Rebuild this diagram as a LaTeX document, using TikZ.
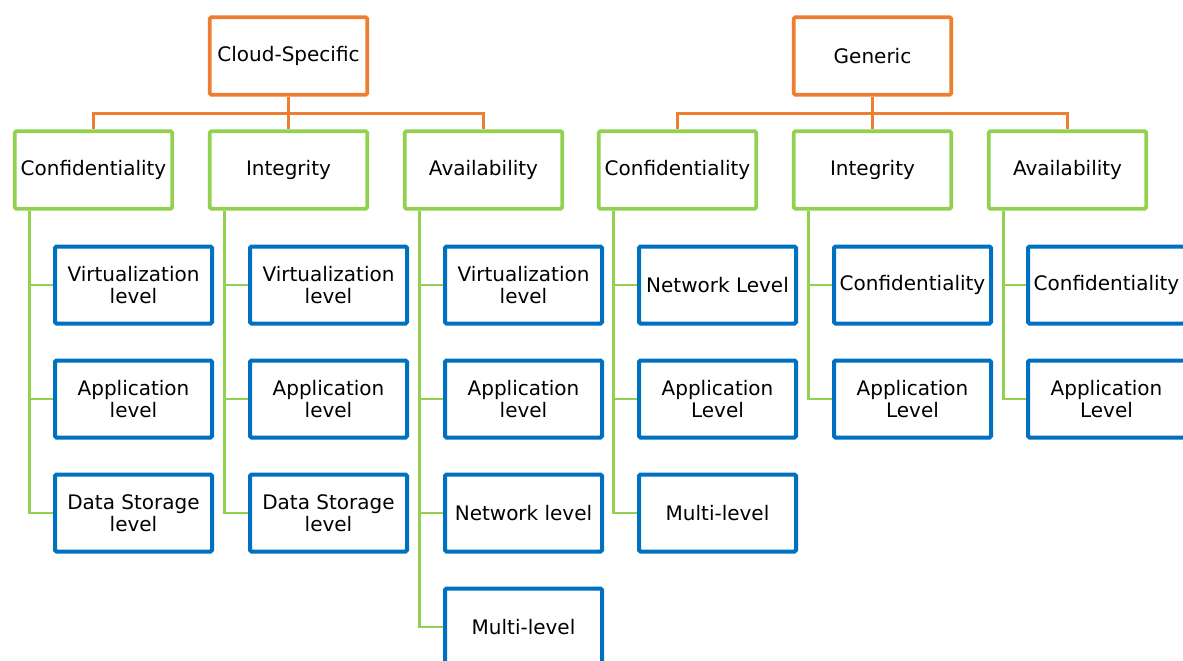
\documentclass[tikz,border=0pt]{standalone}
\usepackage{fontspec}
\setmainfont{DejaVu Sans}
\definecolor{oc}{HTML}{ED7D31}
\definecolor{gc}{HTML}{92D050}
\definecolor{bc}{HTML}{0070C0}
\begin{document}
\begin{tikzpicture}[x=1pt,y=-1pt,
  box/.style={draw,fill=white,line width=3.6pt,rounded corners=1.5pt,minimum width=157.5pt,minimum height=77.5pt,inner sep=0pt,align=center,font=\fontsize{20}{22}\selectfont},
  topbox/.style={box,draw=oc},
  midbox/.style={box,draw=gc},
  leafbox/.style={box,draw=bc,line width=4pt,minimum width=157pt,minimum height=77pt},
  oline/.style={draw=oc,line width=2.6pt},
  gline/.style={draw=gc,line width=2.6pt}]
\useasboundingbox (0,0) rectangle (1183,661);
\fill[white] (0,0) rectangle (1183,661);
% top
\node[topbox] (cs) at (288.5,56) {Cloud-Specific};
\node[topbox] (ge) at (872.5,56) {Generic};
% mid
\node[midbox] (g1) at (93.5,170) {Confidentiality};
\node[midbox] (g2) at (288.5,170) {Integrity};
\node[midbox] (g3) at (483.5,170) {Availability};
\node[midbox] (g4) at (677.5,170) {Confidentiality};
\node[midbox] (g5) at (872.5,170) {Integrity};
\node[midbox] (g6) at (1067.5,170) {Availability};
% connectors top
\foreach \g in {g1,g2,g3} \draw[oline] (cs.south) -- ++(0,17) -| (\g.north);
\foreach \g in {g4,g5,g6} \draw[oline] (ge.south) -- ++(0,17) -| (\g.north);
% leaves
\node[leafbox] (a1) at (133.5,285) {Virtualization\\level};
\node[leafbox] (a2) at (133.5,399) {Application\\level};
\node[leafbox] (a3) at (133.5,513) {Data Storage\\level};
\node[leafbox] (b1) at (328.5,285) {Virtualization\\level};
\node[leafbox] (b2) at (328.5,399) {Application\\level};
\node[leafbox] (b3) at (328.5,513) {Data Storage\\level};
\node[leafbox] (c1) at (523.5,285) {Virtualization\\level};
\node[leafbox] (c2) at (523.5,399) {Application\\level};
\node[leafbox] (c3) at (523.5,513) {Network level};
\node[leafbox] (c4) at (523.5,627) {Multi-level};
\node[leafbox] (d1) at (717.5,285) {Network Level};
\node[leafbox] (d2) at (717.5,399) {Application\\Level};
\node[leafbox] (d3) at (717.5,513) {Multi-level};
\node[leafbox] (e1) at (912.5,285) {Confidentiality};
\node[leafbox] (e2) at (912.5,399) {Application\\Level};
\node[leafbox] (f1) at (1106.5,285) {Confidentiality};
\node[leafbox] (f2) at (1106.5,399) {Application\\Level};
% green connectors
\foreach \l in {a1,a2,a3} \draw[gline] ([xshift=16.5pt]g1.south west) |- (\l.west);
\foreach \l in {b1,b2,b3} \draw[gline] ([xshift=16.5pt]g2.south west) |- (\l.west);
\foreach \l in {c1,c2,c3,c4} \draw[gline] ([xshift=16.5pt]g3.south west) |- (\l.west);
\foreach \l in {d1,d2,d3} \draw[gline] ([xshift=16.5pt]g4.south west) |- (\l.west);
\foreach \l in {e1,e2} \draw[gline] ([xshift=16.5pt]g5.south west) |- (\l.west);
\foreach \l in {f1,f2} \draw[gline] ([xshift=16.5pt]g6.south west) |- (\l.west);
\end{tikzpicture}
\end{document}
